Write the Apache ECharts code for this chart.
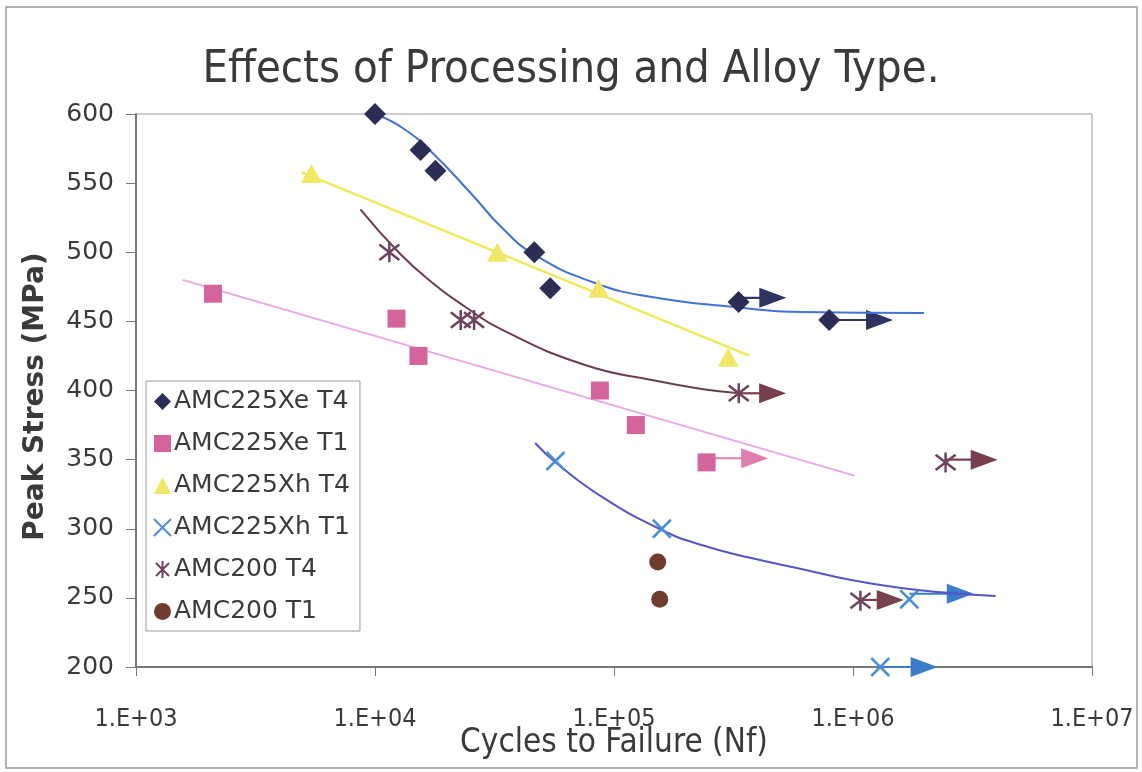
<!DOCTYPE html>
<html>
<head>
<meta charset="utf-8">
<script src="https://cdn.jsdelivr.net/npm/echarts@6/dist/echarts.min.js"></script>
<style>
html,body{margin:0;padding:0;background:#fff;}
#chart{width:1142px;height:772px;}
</style>
</head>
<body>
<div id="chart"></div>
<script>
// ---- data (cycles, stress MPa) ----
const seriesNames = ['AMC225Xe T4','AMC225Xe T1','AMC225Xh T4','AMC225Xh T1','AMC200 T4','AMC200 T1'];
const xTickLabels = ['1.E+03','1.E+04','1.E+05','1.E+06','1.E+07'];

const xeT4 = [[10000,600],[15500,574],[17900,559],[46400,500],[54100,474],[332000,464],[795000,451]];
const xeT1 = [[2100,470],[12300,452],[15200,425],[87300,400],[123400,375],[244000,348]];
const xhT4 = [[5420,557],[32500,500],[86200,474],[300500,424]];
const xhT1 = [[56900,349],[158500,300],[1720000,249],[1300000,200]];
const a200T4 = [[11480,500],[22840,451],[25970,451],[332700,398],[2440000,348],[1074000,248]];
const a200T1 = [[152400,276],[155300,249]];

// run-out arrows: [start cycles, tip cycles, stress]
const xeT4Arrows = [[332000,526000,467],[795000,1470000,451]];
const xeT1Arrows = [[244000,441700,351]];
const xhT1Arrows = [[1720000,3200000,253],[1300000,2260000,200]];
const a200T4Arrows = [[332700,525000,398],[2440000,4030000,350],[1074000,1630000,248.5]];

// trend curves
const xeT4Fit = [[10000,600],[13050,589.9],[17400,571.8],[25560,541.4],[34080,517.5],[46800,498],[83200,477.8],[143900,467.6],[319000,460.4],[606000,456.8],[1980000,456.1]];
const xeT1Fit = [[1567,480],[1014000,338.4]];
const xhT4Fit = [[4910,558],[369800,425]];
const xhT1Fit = [[46800,362],[56700,348.3],[89100,323],[158600,299.1],[232400,288.2],[375500,278.8],[607600,270.9],[982000,262.9],[1588000,257.1],[2566000,253.5],[3950000,251.3]];
const a200T4Fit = [[8690,531.1],[12640,499.5],[17410,477.8],[23900,460.4],[34100,443.8],[75700,418.4],[143900,407.6],[232700,401.1],[325800,398.2]];

// ---- styles ----
const condFont = "'DejaVu Sans Condensed', 'Liberation Sans Narrow', 'DejaVu Sans', sans-serif";
const sansFont = "'DejaVu Sans', sans-serif";
const textColor = '#3a3a3a';

const crossPath = 'path://M0,0 L10,10 M10,0 L0,10';
const starPath = 'path://M0,0 L10,10 M10,0 L0,10 M5,-1.5 L5,11.5';

function arrowSeries(name, data, color) {
  return {
    name: name, type: 'custom', data: data, z: 1,
    encode: {x: [0, 1], y: 2},
    silent: true,
    renderItem: function (params, api) {
      const s = api.coord([api.value(0), api.value(2)]);
      const t = api.coord([api.value(1), api.value(2)]);
      const headLen = 27, half = 10;
      return {
        type: 'group',
        children: [
          {type: 'line', shape: {x1: s[0], y1: t[1], x2: t[0] - headLen + 2, y2: t[1]},
           style: {stroke: color, lineWidth: 2.2}},
          {type: 'polygon', shape: {points: [[t[0], t[1]], [t[0] - headLen, t[1] - half], [t[0] - headLen, t[1] + half]]},
           style: {fill: color}}
        ]
      };
    }
  };
}

function fitSeries(name, data, color, width) {
  return {
    name: name, type: 'line', data: data, symbol: 'none', smooth: 0.5,
    z: 1, silent: true,
    lineStyle: {color: color, width: width}
  };
}

const chart = echarts.init(document.getElementById('chart'), null, {renderer: 'canvas'});

const option = {
  backgroundColor: '#ffffff',
  animation: false,
  title: {
    text: 'Effects of Processing and Alloy Type.',
    left: 'center', top: 43,
    textStyle: {fontFamily: condFont, fontSize: 45, fontWeight: 'normal', color: textColor}
  },
  graphic: [{
    type: 'rect', shape: {x: 6, y: 7, width: 1131, height: 761},
    style: {fill: 'none', stroke: '#9a9a9a', lineWidth: 1.5}, silent: true, z: -10
  }],
  grid: {left: 136, right: 50, top: 114, bottom: 105, show: true, borderColor: '#999', borderWidth: 1,
         outerBoundsMode: 'none', containLabel: false},
  legend: {
    data: seriesNames,
    orient: 'vertical', left: 146, top: 381,
    backgroundColor: '#fff', borderColor: '#999', borderWidth: 1,
    padding: [8, 10, 7, 7], itemGap: 17, itemWidth: 17, itemHeight: 17,
    textStyle: {fontFamily: sansFont, fontSize: 25, color: textColor, padding: [0, 0, 0, -2]}
  },
  xAxis: {
    type: 'log', logBase: 10, min: 1000, max: 10000000,
    name: 'Cycles to Failure (Nf)', nameLocation: 'middle', nameGap: 60, nameMoveOverlap: false,
    nameTextStyle: {fontFamily: condFont, fontSize: 33, color: textColor},
    axisLine: {show: true, lineStyle: {color: '#777', width: 2}},
    axisTick: {show: true, length: 9, lineStyle: {color: '#777'}},
    minorTick: {show: false},
    splitLine: {show: false},
    axisLabel: {
      margin: 40, fontFamily: condFont, fontSize: 25, color: textColor,
      formatter: function (v) { return xTickLabels[Math.round(Math.log10(v)) - 3]; }
    }
  },
  yAxis: {
    type: 'value', min: 200, max: 600, interval: 50,
    name: 'Peak Stress (MPa)', nameLocation: 'middle', nameGap: 86, nameRotate: 90, nameMoveOverlap: false,
    nameTextStyle: {fontFamily: sansFont, fontSize: 28, fontWeight: 'bold', color: '#3a3a3a', padding: [0, 12, 0, 0]},
    axisLine: {show: true, lineStyle: {color: '#777', width: 2}},
    axisTick: {show: true, length: 10, lineStyle: {color: '#777'}},
    splitLine: {show: false},
    axisLabel: {margin: 22, fontFamily: sansFont, fontSize: 25, color: textColor}
  },
  series: [
    fitSeries('fit-xeT4', xeT4Fit, '#4272d4', 2),
    fitSeries('fit-xeT1', xeT1Fit, '#eaa6e8', 2),
    fitSeries('fit-xhT4', xhT4Fit, '#eeea5a', 2.5),
    fitSeries('fit-xhT1', xhT1Fit, '#5656c4', 2),
    fitSeries('fit-a200T4', a200T4Fit, '#6a3f48', 2),
    arrowSeries('arr-xeT4', xeT4Arrows, '#2d3462'),
    arrowSeries('arr-xeT1', xeT1Arrows, '#e07fae'),
    arrowSeries('arr-xhT1', xhT1Arrows, '#3a7cc8'),
    arrowSeries('arr-a200T4', a200T4Arrows, '#76404f'),
    {name: seriesNames[0], type: 'scatter', data: xeT4, symbol: 'diamond', symbolSize: 22, z: 5,
     itemStyle: {color: '#2b2d55', opacity: 1}},
    {name: seriesNames[1], type: 'scatter', data: xeT1, symbol: 'rect', symbolSize: 18, z: 5,
     itemStyle: {color: '#d3649c', opacity: 1}},
    {name: seriesNames[2], type: 'scatter', data: xhT4, symbol: 'triangle', symbolSize: [21, 19], z: 5,
     itemStyle: {color: '#f1e766', opacity: 1}},
    {name: seriesNames[3], type: 'scatter', data: xhT1, symbol: crossPath, symbolSize: 18, z: 5,
     itemStyle: {color: 'rgba(0,0,0,0)', borderColor: '#4c8fd6', borderWidth: 2.5, opacity: 1}},
    {name: seriesNames[4], type: 'scatter', data: a200T4, symbol: starPath, symbolSize: 20, z: 5,
     itemStyle: {color: 'rgba(0,0,0,0)', borderColor: '#6f4360', borderWidth: 2.5, opacity: 1}},
    {name: seriesNames[5], type: 'scatter', data: a200T1, symbol: 'circle', symbolSize: 17, z: 5,
     itemStyle: {color: '#6e3d30', opacity: 1}}
  ]
};
chart.setOption(option);
</script>
</body>
</html>
